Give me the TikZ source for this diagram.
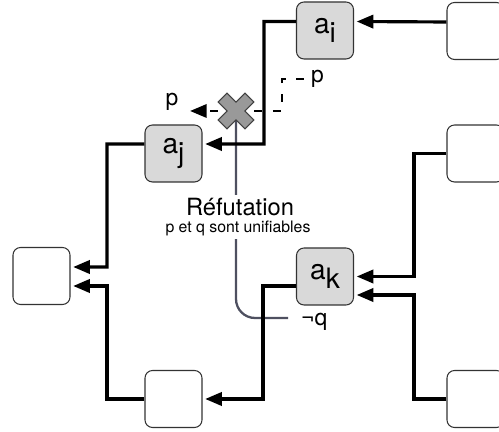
\documentclass[tikz,border=0pt]{standalone}
\usepackage{fontspec}
\setmainfont{TeX Gyre Heros}
\usetikzlibrary{arrows.meta}
\definecolor{refutgray}{HTML}{4E5060}
\newcommand{\sbs}[1]{\raisebox{-0.3em}{#1}}

\begin{document}
\begin{tikzpicture}[
  clause/.style={draw=black!80,line width=0.6pt,rounded corners=0.15cm,minimum size=1.14cm,inner sep=0pt,font=\fontsize{16}{16}\selectfont},
  lit/.style={clause,fill=black!15},
  tip/.style={-{Triangle[length=9.5pt,width=7.5pt]}},
  wire/.style={line width=1.8pt,tip,shorten >=1.5pt},
  dashwire/.style={line width=1.6pt,dash pattern=on 4.5pt off 6pt},
  refut/.style={draw=refutgray,line width=1.3pt},
  lab/.style={font=\fontsize{13}{13}\selectfont}
]
  \useasboundingbox (0,0) rectangle (9.98,8.64);
  \node[lit] (ai) at (6.5,8.03) {a\sbs{i}};
  \node[lit] (aj) at (3.47,5.57) {a\sbs{j}};
  \node[lit] (ak) at (6.5,3.11) {a\sbs{k}};
  \node[clause] (l) at (0.83,3.12) {};
  \node[clause] (b) at (3.47,0.66) {};
  \node[clause] (r1) at (9.51,8.02) {};
  \node[clause] (r2) at (9.51,5.57) {};
  \node[clause] (r3) at (9.51,0.66) {};

  \coordinate (x) at (4.72,6.42);
  \coordinate (pl) at (3.8,6.42);
  \coordinate (np) at (6.1,7.06);
  \coordinate (nq) at (5.76,2.28);
  \draw[refut,rounded corners=0.38cm] (x) |- (nq);
  \node[fill=white,inner sep=1.5pt,font=\fontsize{13.5}{13.5}\selectfont] (ref) at (4.8,4.5) {Réfutation};
  \node[fill=white,inner sep=1.5pt,font=\fontsize{9}{9}\selectfont] (uni) at (4.76,4.07) {p et q sont unifiables};
  \draw[dashwire,tip] (x) -- (pl);
  \draw[dashwire] (x) -- (5.64,6.42) |- (np);
  \draw[fill=gray!80,draw=black!75,line width=0.6pt,shift={(x)},rotate=45]
    (0.38,0.125) -- (0.125,0.125) -- (0.125,0.38) -- (-0.125,0.38) -- (-0.125,0.125) -- (-0.38,0.125)
    -- (-0.38,-0.125) -- (-0.125,-0.125) -- (-0.125,-0.38) -- (0.125,-0.38) -- (0.125,-0.125) -- (0.38,-0.125) -- cycle;
  \node[lab] (lp) at (3.44,6.6) {p};
  \node[lab,right] (lnp) at (np) {p};
  \node[lab,anchor=west] (lq) at (5.9,2.2) {¬q};

  \draw[wire] ([yshift=0.18cm]r1.west) -- ([yshift=0.18cm]ai.east);
  \draw[wire] ([yshift=0.18cm]ai.west) -| (5.28,5.76) -- ([yshift=0.19cm]aj.east);
  \draw[wire] (r2.west) -| (8.28,3.11) -- (ak.east);
  \draw[wire] (r3.west) -| (8.28,2.74) -- ([yshift=-0.37cm]ak.east);
  \draw[wire] ([yshift=-0.19cm]ak.west) -| (5.26,0.66) -- (b.east);
  \draw[wire] ([yshift=0.19cm]aj.west) -| (2.14,3.30) -- ([yshift=0.18cm]l.east);
  \draw[wire] (b.west) -| (2.14,2.92) -- ([yshift=-0.2cm]l.east);
\end{tikzpicture}
\end{document}
